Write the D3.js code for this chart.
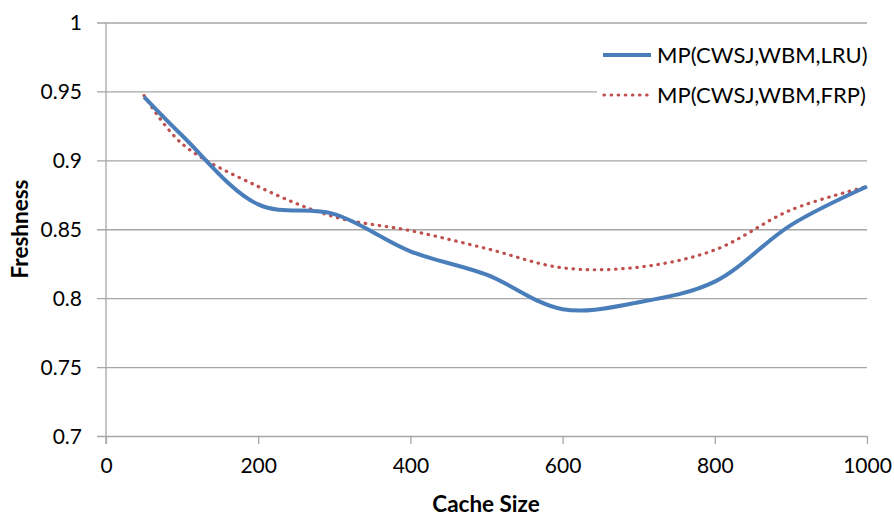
<!DOCTYPE html>
<html>
<head>
<meta charset="utf-8">
<script src="https://cdn.jsdelivr.net/npm/d3@7"></script>
<style>
  html, body { margin: 0; padding: 0; background: #fff; }
  svg { display: block; }
  text { font-family: Lato, "Noto Sans", sans-serif; fill: #000; }
</style>
</head>
<body>
<svg id="chart" width="894" height="516"></svg>
<script>
// Cache sizes at which freshness was measured
const cacheSizes = [50, 100, 200, 300, 400, 500, 600, 700, 800, 900, 1000];
// Freshness for each replacement policy
const lruValues = [0.946, 0.918, 0.868, 0.861, 0.834, 0.817, 0.792, 0.797, 0.812, 0.853, 0.881];
const frpValues = [0.947, 0.912, 0.881, 0.859, 0.849, 0.836, 0.822, 0.8225, 0.835, 0.864, 0.881];
const seriesNames = ["MP(CWSJ,WBM,LRU)", "MP(CWSJ,WBM,FRP)"];
const xTicks = [0, 200, 400, 600, 800, 1000];
const yTicks = [0.7, 0.75, 0.8, 0.85, 0.9, 0.95, 1];

const svg = d3.select("#chart");
const plotLeft = 106, plotRight = 867, plotTop = 22.5, plotBottom = 436;

const x = d3.scaleLinear().domain([0, 1000]).range([plotLeft, plotRight]);
const y = d3.scaleLinear().domain([0.7, 1]).range([plotBottom, plotTop]);

const gridColor = "#a6a6a6";

// Horizontal gridlines with short ticks left of the axis
svg.append("g")
  .attr("transform", `translate(${plotLeft},0)`)
  .call(d3.axisLeft(y).tickValues(yTicks).tickSize(-(plotRight - plotLeft)).tickSizeOuter(0)
    .tickFormat(d => String(+d.toFixed(2))))
  .call(g => g.select(".domain").remove())
  .call(g => g.selectAll(".tick line").attr("stroke", gridColor).attr("stroke-width", 1.3).attr("x1", -9))
  .call(g => g.selectAll(".tick text").attr("font-size", 21).attr("fill", "#000").attr("x", -24).attr("dy", "0.34em"));

// Vertical axis line
svg.append("line")
  .attr("x1", plotLeft).attr("x2", plotLeft).attr("y1", plotTop).attr("y2", plotBottom + 8)
  .attr("stroke", gridColor).attr("stroke-width", 1.3);

// Bottom axis
svg.append("g")
  .attr("transform", `translate(0,${plotBottom})`)
  .call(d3.axisBottom(x).tickValues(xTicks).tickSize(8).tickSizeOuter(0).tickPadding(14)
    .tickFormat(d => String(d)))
  .call(g => g.select(".domain").remove())
  .call(g => g.selectAll(".tick line").attr("stroke", gridColor).attr("stroke-width", 1.3))
  .call(g => g.selectAll(".tick text").attr("font-size", 21).attr("fill", "#000"));

// Legend background hides the gridline underneath it
svg.append("rect").attr("x", 597).attr("y", 36).attr("width", 297).attr("height", 78).attr("fill", "#fff");

const line = d3.line().curve(d3.curveCatmullRom.alpha(0.5))
  .x((d, i) => x(cacheSizes[i])).y(d => y(d));

svg.append("path").datum(frpValues)
  .attr("d", line).attr("fill", "none")
  .attr("stroke", "#c0504d").attr("stroke-width", 3.2)
  .attr("stroke-linecap", "round").attr("stroke-dasharray", "0.5,6.6");

svg.append("path").datum(lruValues)
  .attr("d", line).attr("fill", "none")
  .attr("stroke", "#4a7ebb").attr("stroke-width", 4);

// Legend
const legend = svg.append("g");
legend.append("line").attr("x1", 603).attr("x2", 651).attr("y1", 55).attr("y2", 55)
  .attr("stroke", "#4a7ebb").attr("stroke-width", 4);
legend.append("line").attr("x1", 604).attr("x2", 651).attr("y1", 95).attr("y2", 95)
  .attr("stroke", "#c0504d").attr("stroke-width", 3.2)
  .attr("stroke-linecap", "round").attr("stroke-dasharray", "0.5,6.6");
legend.append("text").attr("x", 657).attr("y", 63).attr("font-size", 22).text(seriesNames[0]);
legend.append("text").attr("x", 657).attr("y", 103).attr("font-size", 22).text(seriesNames[1]);

// Axis titles
svg.append("text").attr("x", 486).attr("y", 512).attr("text-anchor", "middle")
  .attr("font-size", 22.5).attr("font-weight", "bold").text("Cache Size");
svg.append("text").attr("transform", "translate(28,229) rotate(-90)").attr("text-anchor", "middle")
  .attr("font-size", 22.5).attr("font-weight", "bold").text("Freshness");
</script>
</body>
</html>
